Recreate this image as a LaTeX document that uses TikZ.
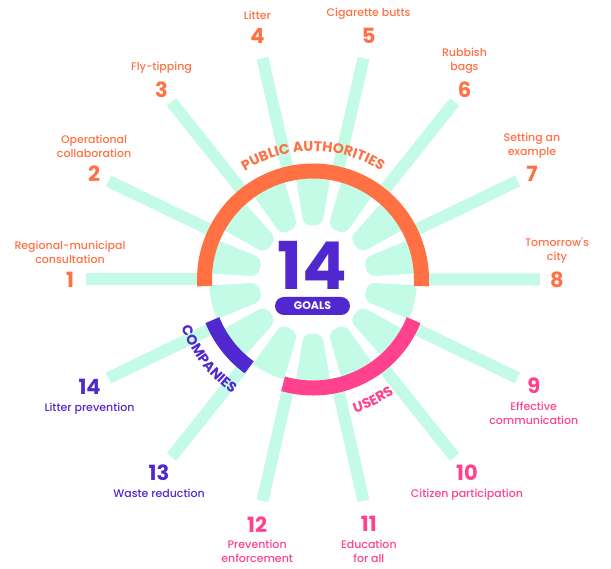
\documentclass[tikz,border=0pt]{standalone}
\usepackage{fontspec}
\setmainfont{Poppins}
\newfontfamily\lblfont{Poppins Medium}
\usetikzlibrary{positioning,decorations.text}
\definecolor{mint}{HTML}{C3FBE6}
\definecolor{auth}{HTML}{FF7043}
\definecolor{users}{HTML}{FF418E}
\definecolor{comp}{HTML}{5128CF}

\begin{document}
\begin{tikzpicture}[x=1pt,y=1pt,
  num/.style={font=\fontsize{21}{21}\selectfont\bfseries,inner sep=1pt},
  lbl/.style={font=\lblfont\fontsize{11}{14}\selectfont,align=center,inner sep=1pt},
  ring/.style={line width=15pt},
  arclbl/.style 2 args={decorate,decoration={text along path,text align=center,text={|\fontsize{14}{14}\selectfont\bfseries\color{#1}|#2}}}]
\useasboundingbox (-313,-289.5) rectangle (298,279.5);
% inner fan: one wedge between each pair of rays, rays at 180-25.714*k
\foreach \k in {0,...,13} {
  \pgfmathsetmacro\c{167.143-25.714*\k}
  \fill[mint] (\c+9.6:104pt) arc[start angle=\c+9.6,end angle=\c-9.6,radius=104pt]
    {[rounded corners=7pt] -- (\c-9.6:55pt) -- (\c+9.6:55pt)} -- cycle;
}
\foreach \k in {0,...,13}
  \draw[mint,line width=12pt] (180-25.714*\k:104pt) -- (180-25.714*\k:227pt);
% stakeholder rings
\draw[ring,auth] (183.5:108.5pt) arc[start angle=183.5,end angle=-3.5,radius=108.5pt];
\draw[ring,comp] (202:108.5pt) arc[start angle=202,end angle=234,radius=108.5pt];
\draw[ring,users] (254:108.5pt) arc[start angle=254,end angle=338,radius=108.5pt];
\path[arclbl={auth}{PUBLIC AUTHORITIES}] (130:128pt) arc[start angle=130,end angle=50,radius=128pt];
\path[arclbl={comp}{COMPANIES}] (195:140pt) arc[start angle=195,end angle=240,radius=140pt];
\path[arclbl={users}{USERS}] (-82:140pt) arc[start angle=-82,end angle=-45,radius=140pt];
\node[text=comp,font=\fontsize{66}{66}\selectfont\bfseries,inner sep=0pt] (total) at (-1,14.5) {14};
\node[fill=comp,text=white,rounded corners=9pt,minimum width=75pt,minimum height=18pt,
  font=\fontsize{11}{11}\selectfont\bfseries] (goals) at (-0.5,-26.5) {GOALS};
% goals, numbered from the left, clockwise
\foreach \i/\r/\t/\col in {1/243/{Regional-municipal\\consultation}/auth, 2/243/{Operational\\collaboration}/auth,
    3/243/{Fly-tipping}/auth, 4/250/{Litter}/auth, 5/250/{Cigarette butts}/auth, 6/243/{Rubbish\\bags}/auth,
    7/243/{Setting an\\example}/auth, 8/244/{Tomorrow's\\city}/auth} {
  \node[num,text=\col] (n\i) at (180-25.714*\i+25.714:\r pt) {\i};
  \node[lbl,text=\col,above=6pt of n\i] (l\i) {\t};
}
\foreach \i/\r/\t/\col in {9/245/{Effective\\communication}/users, 10/247/{Citizen participation}/users,
    11/251/{Education\\for all}/users, 12/251/{Prevention\\enforcement}/users,
    13/247/{Waste reduction}/comp, 14/248/{Litter prevention}/comp} {
  \node[num,text=\col] (n\i) at (180-25.714*\i+25.714:\r pt) {\i};
  \node[lbl,text=\col,below=6pt of n\i] (l\i) {\t};
}
\end{tikzpicture}
\end{document}
